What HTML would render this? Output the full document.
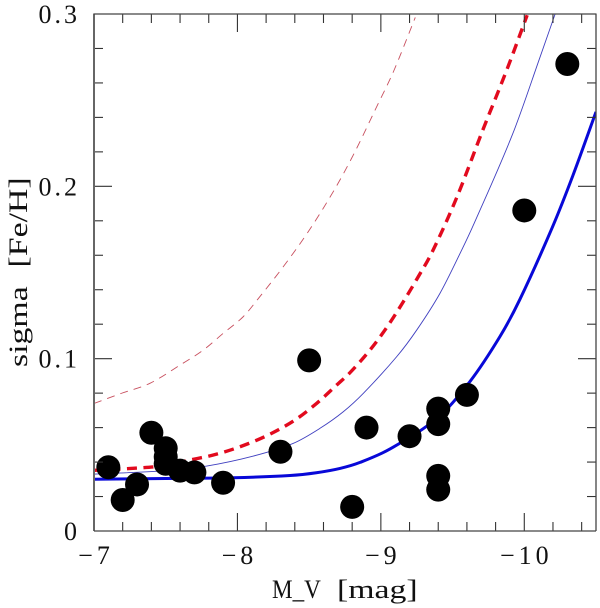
<!DOCTYPE html>
<html lang="en">
<head>
<meta charset="utf-8">
<title>sigma [Fe/H] vs M_V</title>
<style>
html,body{margin:0;padding:0;background:#fff;}
svg{display:block;}
text{font-family:"Liberation Serif",serif;fill:#111;}
</style>
</head>
<body>
<svg id="chart" width="600" height="608" viewBox="0 0 600 608" xmlns="http://www.w3.org/2000/svg">
  <defs><clipPath id="plot-clip"><rect x="94" y="14" width="502" height="517"/></clipPath></defs>
  <g id="curves" clip-path="url(#plot-clip)"></g>
  <g id="points"></g>
  <g id="ticks"></g>
  <g id="frame">
    <line x1="94" y1="13.5" x2="94" y2="531" stroke="#666" stroke-width="2"/>
    <line x1="94" y1="14" x2="596" y2="14" stroke="#444" stroke-width="1.3"/>
    <line x1="596" y1="13.5" x2="596" y2="531" stroke="#444" stroke-width="1.3"/>
    <line x1="94" y1="531" x2="596" y2="531" stroke="#444" stroke-width="1.3"/>
  </g>
  <g id="labels"></g>
  <g>
    <text transform="translate(272,598) scale(0.89,1)" x="0" y="0" font-size="26">M_V</text>
    <text transform="translate(337,598) scale(1.3,1)" x="0" y="0" font-size="26">[mag]</text>
  </g>
  <text transform="translate(27,367) rotate(-90) scale(1.3,1)" x="0" y="0" font-size="26" word-spacing="8">sigma [Fe/H]</text>
</svg>
<script>
var xDomain = [-7, -10.5];
var yDomain = [0, 0.3];
var xTickLabels = [-7, -8, -9, -10];
var yTickLabels = [0, 0.1, 0.2, 0.3];

var pointMag = [-7.1, -7.2, -7.3, -7.4, -7.5, -7.5, -7.5, -7.6, -7.7, -7.9, -8.3, -8.5, -8.8, -8.9, -9.2, -9.4, -9.4, -9.4, -9.4, -9.6, -10, -10.3];
var pointSigma = [0.037, 0.018, 0.027, 0.057, 0.048, 0.043, 0.039, 0.035, 0.034, 0.028, 0.046, 0.099, 0.014, 0.060, 0.055, 0.071, 0.062, 0.032, 0.024, 0.079, 0.186, 0.271];

var thickBlueMag = [-7, -7.5, -7.97, -8.367, -8.55, -8.715, -8.855, -9.064, -9.4, -9.62, -9.83, -9.97, -10.196, -10.34, -10.5];
var thickBlueSigma = [0.030, 0.0305, 0.0309, 0.0322, 0.0338, 0.0363, 0.0398, 0.0476, 0.066, 0.0866, 0.1128, 0.1345, 0.1763, 0.2065, 0.2432];

var thinBlueMag = [-7, -7.5, -7.786, -8.111, -8.39, -8.576, -8.738, -8.878, -9.11, -9.25, -9.412, -9.564, -9.645, -9.92, -10.11, -10.215];
var thinBlueSigma = [0.033, 0.035, 0.0377, 0.0435, 0.0509, 0.0596, 0.0692, 0.0799, 0.1011, 0.1166, 0.1379, 0.1631, 0.1775, 0.2306, 0.275, 0.300];

var thickRedMag = [-7, -7.3, -7.5, -7.646, -7.832, -8.018, -8.215, -8.401, -8.553, -8.692, -8.785, -8.924, -9.045, -9.157, -9.254, -9.359, -9.53, -9.71, -9.88, -10.02];
var thickRedSigma = [0.0352, 0.0365, 0.038, 0.0408, 0.0441, 0.0489, 0.0557, 0.0644, 0.0741, 0.0847, 0.0919, 0.105, 0.1186, 0.1331, 0.1466, 0.1621, 0.1937, 0.2325, 0.268, 0.2993];

var thinRedMag = [-7, -7.195, -7.39, -7.6, -7.762, -7.901, -8.041, -8.143, -8.32, -8.494, -8.668, -8.808, -8.971, -9.09, -9.24];
var thinRedSigma = [0.074, 0.080, 0.0857, 0.0963, 0.105, 0.1147, 0.1244, 0.1346, 0.1534, 0.1737, 0.1969, 0.2182, 0.2462, 0.267, 0.298];

var NS = 'http://www.w3.org/2000/svg';
function xScale(v){ return 94 + (v - xDomain[0]) / (xDomain[1] - xDomain[0]) * 502; }
function yScale(v){ return 531 - (v - yDomain[0]) / (yDomain[1] - yDomain[0]) * 517; }

function smoothPath(xs, ys){
  var px = xs.map(xScale), py = ys.map(yScale), n = px.length, m = [];
  for (var j = 0; j < n; j++){
    var a = Math.max(j - 1, 0), b = Math.min(j + 1, n - 1);
    m.push((py[b] - py[a]) / (px[b] - px[a]));
  }
  var d = 'M' + px[0].toFixed(2) + ' ' + py[0].toFixed(2);
  for (var i = 0; i < n - 1; i++){
    var h = (px[i + 1] - px[i]) / 3;
    d += ' C' + (px[i] + h).toFixed(2) + ' ' + (py[i] + m[i] * h).toFixed(2) +
         ' ' + (px[i + 1] - h).toFixed(2) + ' ' + (py[i + 1] - m[i + 1] * h).toFixed(2) +
         ' ' + px[i + 1].toFixed(2) + ' ' + py[i + 1].toFixed(2);
  }
  return d;
}

var curves = document.getElementById('curves');
function addCurve(name, xs, ys, color, width, dash){
  var el = document.createElementNS(NS, 'path');
  
  
  el.setAttribute('d', smoothPath(xs, ys));
  el.setAttribute('fill', 'none');
  el.setAttribute('stroke', color);
  el.setAttribute('stroke-width', width);
  if (dash) el.setAttribute('stroke-dasharray', dash);
  curves.appendChild(el);
}
addCurve('thin-red-dashed-curve', thinRedMag, thinRedSigma, '#c8505f', 0.9, '8 6');
addCurve('thin-blue-curve', thinBlueMag, thinBlueSigma, '#4040c0', 0.9, '');
addCurve('thick-blue-curve', thickBlueMag, thickBlueSigma, '#0808d8', 3, '');
addCurve('thick-red-dashed-curve', thickRedMag, thickRedSigma, '#e20a1e', 3.4, '10 6.5');

var pts = document.getElementById('points');
pointMag.forEach(function(m, i){
  var c = document.createElementNS(NS, 'circle');
  
  
  c.setAttribute('cx', xScale(m));
  c.setAttribute('cy', yScale(pointSigma[i]));
  c.setAttribute('r', 12);
  c.setAttribute('fill', '#000');
  pts.appendChild(c);
});

var ticks = document.getElementById('ticks');
function addTick(name, x1, y1, x2, y2){
  var l = document.createElementNS(NS, 'line');
  
  
  l.setAttribute('x1', x1);
  l.setAttribute('y1', y1);
  l.setAttribute('x2', x2);
  l.setAttribute('y2', y2);
  l.setAttribute('stroke', '#333');
  l.setAttribute('stroke-width', 1.1);
  ticks.appendChild(l);
}
for (var k = 1; k <= 17; k++){
  var tx = xScale(-7 - k * 0.2);
  var lenX = k % 5 === 0 ? 18 : 9;
  addTick('x-tick-bottom', tx, 531, tx, 531 - lenX);
  addTick('x-tick-top', tx, 14, tx, 14 + lenX);
}
for (var n = 1; n <= 14; n++){
  var ty = yScale(n * 0.02);
  var lenY = n % 5 === 0 ? 18 : 9;
  addTick('y-tick-left', 94, ty, 94 + lenY, ty);
  addTick('y-tick-right', 596, ty, 596 - lenY, ty);
}

var labels = document.getElementById('labels');
xTickLabels.forEach(function(v){
  var t = document.createElementNS(NS, 'text');
  
  
  t.setAttribute('x', xScale(v) + 2);
  t.setAttribute('y', 564);
  t.setAttribute('text-anchor', 'middle');
  t.setAttribute('font-size', 26);
  t.setAttribute('letter-spacing', '4');
  t.textContent = '\u2212' + Math.abs(v);
  labels.appendChild(t);
});
yTickLabels.forEach(function(v){
  var t = document.createElementNS(NS, 'text');
  
  
  t.setAttribute('x', 80);
  t.setAttribute('y', yScale(v) + 9);
  t.setAttribute('text-anchor', 'end');
  t.setAttribute('font-size', 26);
  t.setAttribute('letter-spacing', '3');
  t.textContent = v === 0 ? '0' : v.toFixed(1);
  labels.appendChild(t);
});
</script>
</body>
</html>
